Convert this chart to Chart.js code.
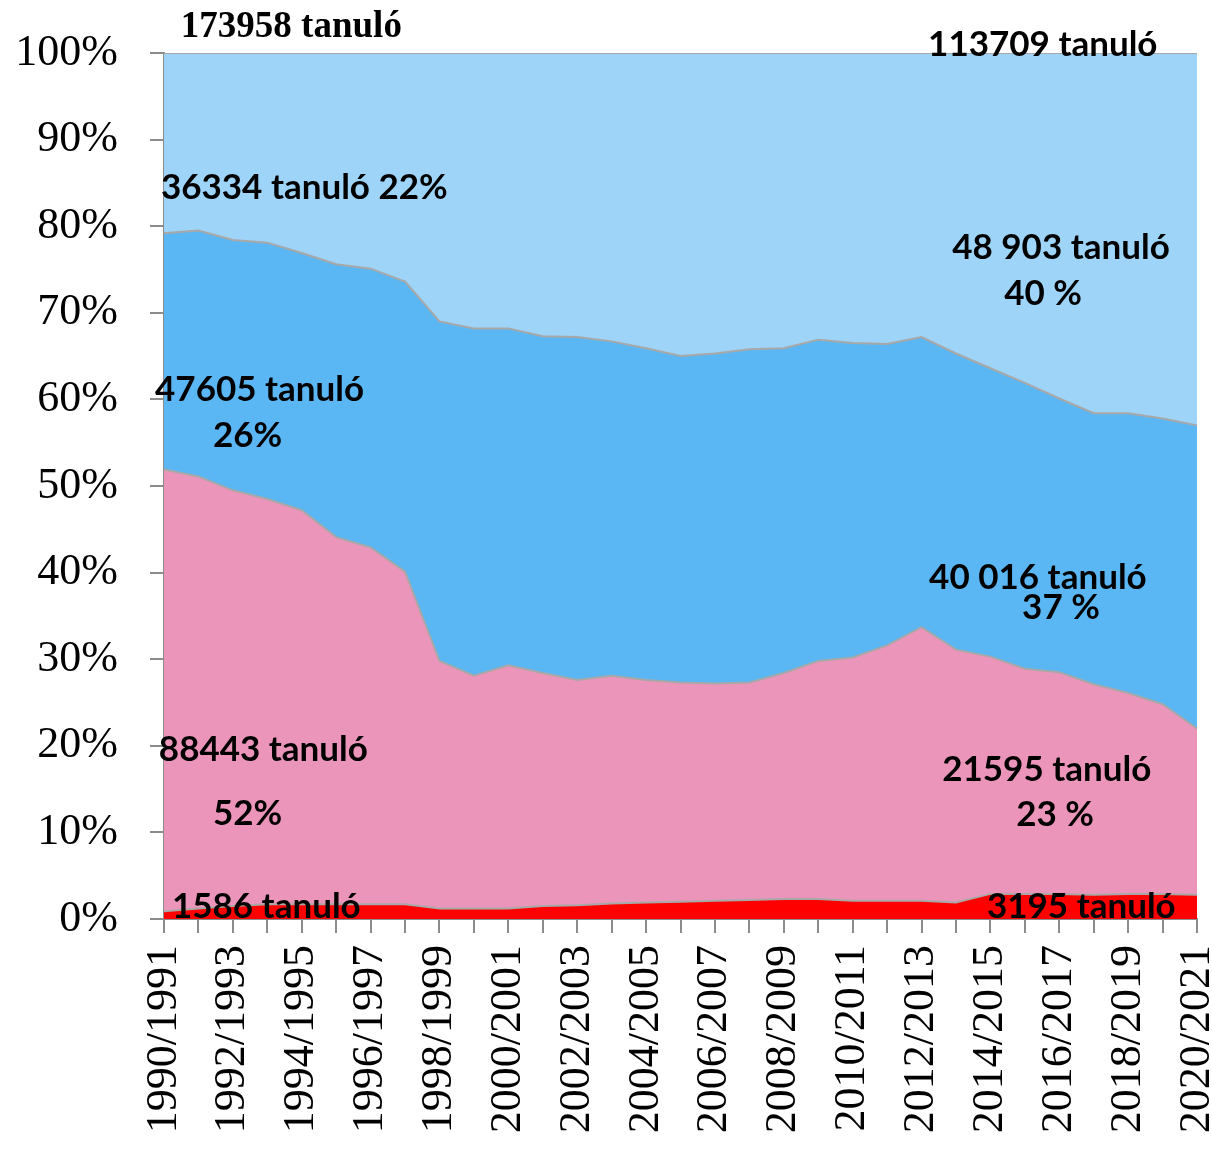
<!DOCTYPE html>
<html>
<head>
<meta charset="utf-8">
<script src="https://cdn.jsdelivr.net/npm/chart.js@4/dist/chart.umd.min.js"></script>
<style>
  html, body { margin: 0; padding: 0; background: #ffffff; }
  #wrap { width: 1212px; height: 1168px; position: relative; }
</style>
</head>
<body>
<div id="wrap"><canvas id="c" width="1212" height="1168"></canvas></div>
<script>
// ---- DATA ----
const categories = [
  "1990/1991","1991/1992","1992/1993","1993/1994","1994/1995","1995/1996","1996/1997","1997/1998",
  "1998/1999","1999/2000","2000/2001","2001/2002","2002/2003","2003/2004","2004/2005","2005/2006",
  "2006/2007","2007/2008","2008/2009","2009/2010","2010/2011","2011/2012","2012/2013","2013/2014",
  "2014/2015","2015/2016","2016/2017","2017/2018","2018/2019","2019/2020","2020/2021"
];
// shares in percent (bottom to top)
const redShare = [0.9,1.2,1.5,1.7,1.7,1.7,1.7,1.7,1.2,1.2,1.2,1.5,1.6,1.8,1.9,2.0,2.1,2.2,2.3,2.3,2.1,2.1,2.1,1.9,2.9,2.9,2.9,2.8,2.9,2.9,2.8];
const pinkShare = [51.0,49.9,48.0,46.8,45.5,42.4,41.2,38.4,28.6,26.9,28.1,26.9,26.0,26.3,25.7,25.3,25.1,25.1,26.1,27.5,28.1,29.5,31.6,29.2,27.4,26.0,25.6,24.3,23.2,21.9,19.2];
const blueShare = [27.3,28.4,28.9,29.6,29.7,31.5,32.2,33.5,39.2,40.1,38.9,38.9,39.6,38.6,38.3,37.7,38.1,38.5,37.5,37.1,36.3,34.8,33.5,34.2,33.3,33.0,31.6,31.3,32.3,33.0,35.0];
const lightShare = [20.8,20.5,21.6,21.9,23.1,24.4,24.9,26.4,31.0,31.8,31.8,32.7,32.8,33.3,34.1,35.0,34.7,34.2,34.1,33.1,33.5,33.6,32.8,34.7,36.4,38.1,39.9,41.6,41.6,42.2,43.0];
const yTicks = [0,10,20,30,40,50,60,70,80,90,100];

// annotations: text, x position (category index), y position (percent), alignment, font
const annotTexts = ["173958 tanuló","113709 tanuló","36334 tanuló 22%","48 903 tanuló","40 %","47605 tanuló","26%","40 016 tanuló","37 %","88443 tanuló","52%","21595 tanuló","23 %","1586 tanuló","3195 tanuló"];
const annotX     = [0.49, 22.19, -0.09, 22.89, 25.53, -0.26, 1.42, 22.22, 24.92, -0.15, 1.42, 22.60, 24.75, 0.23, 23.9];
const annotY     = [102.9, 101.0, 84.4, 77.5, 72.2, 61.1, 55.8, 39.4, 35.9, 19.5, 12.2, 17.2, 12.0, 1.4, 1.4];
const annotAlign = ["left","left","left","left","center","left","left","left","left","left","left","left","left","left","left"];
const annotSerif = [true,false,false,false,false,false,false,false,false,false,false,false,false,false,false];

// ---- CHART ----
const lineGray = '#A8A8A8';
const annotationPlugin = {
  id: 'annot',
  afterDatasetsDraw(chart) {
    const ctx = chart.ctx;
    const xs = chart.scales.x, ys = chart.scales.y;
    const x0 = xs.getPixelForValue(0), x1 = xs.getPixelForValue(1);
    ctx.save();
    ctx.fillStyle = '#000';
    ctx.textBaseline = 'middle';
    for (let i = 0; i < annotTexts.length; i++) {
      const px = x0 + (x1 - x0) * annotX[i];
      const py = ys.getPixelForValue(annotY[i]);
      ctx.font = annotSerif[i] ? 'bold 37px "Liberation Serif", "DejaVu Serif", serif' : 'bold 35px Lato, "Open Sans", sans-serif';
      ctx.textAlign = annotAlign[i];
      ctx.fillText(annotTexts[i], px, py);
    }
    ctx.restore();
  }
};

const ds = (data, color, fill) => ({
  data, backgroundColor: color, borderColor: lineGray, borderWidth: 2,
  fill, pointRadius: 0, pointHoverRadius: 0, tension: 0
});

new Chart(document.getElementById('c'), {
  type: 'line',
  data: {
    labels: categories,
    datasets: [
      ds(redShare, '#FF0000', 'origin'),
      ds(pinkShare, '#EC95BB', '-1'),
      ds(blueShare, '#5BB7F3', '-1'),
      ds(lightShare, '#9DD4F8', '-1')
    ]
  },
  options: {
    responsive: false,
    animation: false,
    devicePixelRatio: 1,
    layout: { padding: { top: 53, right: 15, left: 0, bottom: 0 } },
    plugins: { legend: { display: false }, tooltip: { enabled: false } },
    scales: {
      x: {
        type: 'category',
        offset: false,
        grid: { display: true, drawOnChartArea: false, drawTicks: true, tickLength: 14, color: '#8C8C8C', lineWidth: 2 },
        border: { display: true, color: '#8C8C8C', width: 2 },
        ticks: {
          autoSkip: false, maxRotation: 90, minRotation: 90, padding: 12,
          color: '#000',
          font: { family: '"Liberation Serif", "DejaVu Serif", serif', size: 44 },
          callback: function(v, i) { return i % 2 === 0 ? categories[i] : ''; }
        },
        afterFit(scale) { scale.height = 249; scale.paddingLeft = 0; scale.paddingRight = 0; }
      },
      y: {
        stacked: true, min: 0, max: 100,
        afterBuildTicks(scale) { scale.ticks = yTicks.map(v => ({ value: v })); },
        grid: { display: true, drawOnChartArea: false, drawTicks: true, tickLength: 14, color: '#8C8C8C', lineWidth: 2 },
        border: { display: true, color: '#8C8C8C', width: 2 },
        ticks: {
          padding: 32, color: '#000',
          font: { family: '"Liberation Serif", "DejaVu Serif", serif', size: 44 },
          callback: v => v + '%'
        },
        afterFit(scale) { scale.width = 164; scale.paddingTop = 0; scale.paddingBottom = 0; }
      }
    }
  },
  plugins: [annotationPlugin]
});
</script>
</body>
</html>
